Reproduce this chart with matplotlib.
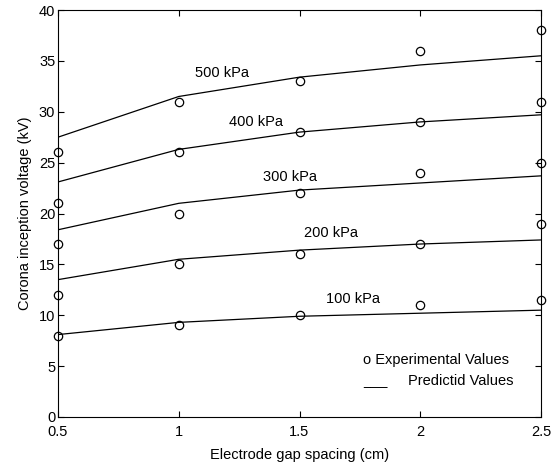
import matplotlib.pyplot as plt

# Elektrodenabstand (cm)
gap = [0.5, 1.0, 1.5, 2.0, 2.5]

# Messwerte (kV)
exp_100 = [8, 9, 10, 11, 11.5]
exp_200 = [12, 15, 16, 17, 19]
exp_300 = [17, 20, 22, 24, 25]
exp_400 = [21, 26, 28, 29, 31]
exp_500 = [26, 31, 33, 36, 38]

# berechnete Werte (kV)
pred_100 = [8.1, 9.3, 9.9, 10.2, 10.5]
pred_200 = [13.5, 15.5, 16.4, 17.0, 17.4]
pred_300 = [18.4, 21.0, 22.3, 23.0, 23.7]
pred_400 = [23.1, 26.3, 28.0, 29.0, 29.7]
pred_500 = [27.5, 31.5, 33.4, 34.6, 35.5]

labels = ["100 kPa", "200 kPa", "300 kPa", "400 kPa", "500 kPa"]
label_pos = [(1.72, 11.6), (1.63, 18.1), (1.46, 23.6), (1.32, 29.0), (1.18, 33.8)]

plt.rcParams["font.family"] = ["Liberation Sans", "DejaVu Sans"]
fs = 10.5

fig = plt.figure(figsize=(5.59, 4.68), dpi=100)
ax = fig.add_axes([58 / 559, 1 - 417 / 468, 483 / 559, 407 / 468])

preds = [pred_100, pred_200, pred_300, pred_400, pred_500]
exps = [exp_100, exp_200, exp_300, exp_400, exp_500]
for p, e, lab, pos in zip(preds, exps, labels, label_pos):
    ax.plot(gap, p, color="black", linewidth=0.9)
    ax.plot(gap, e, linestyle="none", marker="o", markersize=6,
            markerfacecolor="none", markeredgecolor="black", markeredgewidth=0.9,
            clip_on=False)
    ax.text(pos[0], pos[1], lab, ha="center", va="center", fontsize=fs)

# Legende als Text
ax.text(1.763, 5.6, "o Experimental Values", ha="left", va="center", fontsize=fs)
ax.text(1.763, 3.6, "___     Predictid Values", ha="left", va="center", fontsize=fs)

ax.set_xlim(0.5, 2.5)
ax.set_ylim(0, 40)
ax.set_xticks([0.5, 1, 1.5, 2, 2.5])
ax.set_xticklabels(["0.5", "1", "1.5", "2", "2.5"])
ax.set_yticks(range(0, 41, 5))
ax.tick_params(direction="in", top=True, right=True, labelsize=fs, length=4, width=0.8)
ax.tick_params(axis="x", pad=6)
ax.tick_params(axis="y", pad=2)
for s in ax.spines.values():
    s.set_linewidth(0.8)

ax.set_xlabel("Electrode gap spacing (cm)", fontsize=fs, labelpad=6)
ax.set_ylabel("Corona inception voltage (kV)", fontsize=fs, labelpad=5)

fig.savefig("out.png", dpi=100)
